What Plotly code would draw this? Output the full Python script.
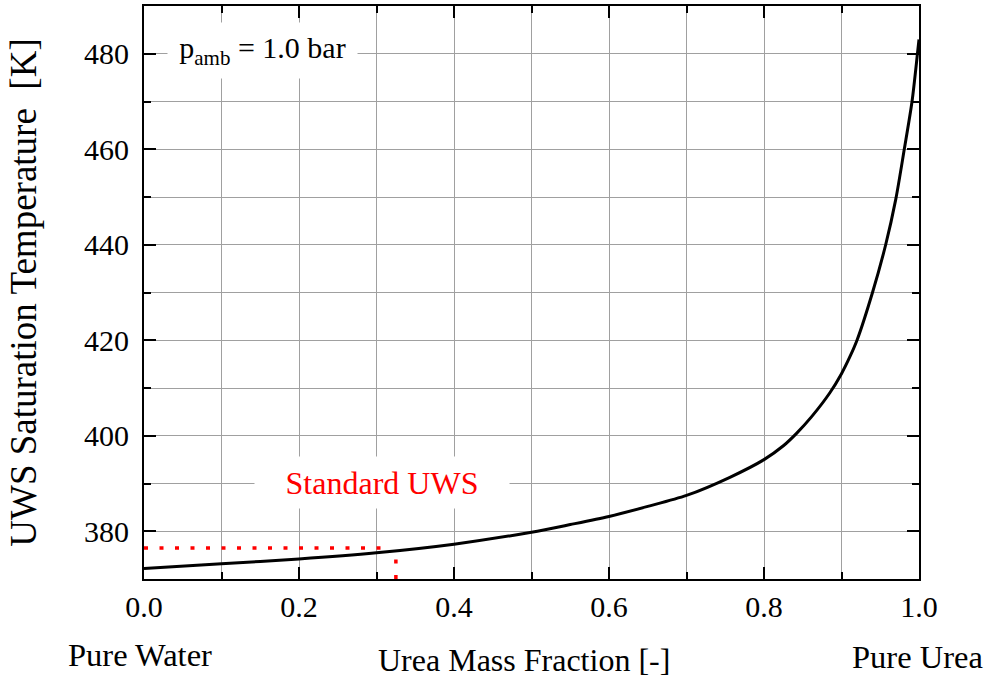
import plotly.graph_objects as go

# Urea mass fraction [-] and UWS saturation temperature [K]
urea_fraction = [0.0, 0.1, 0.2, 0.3, 0.4, 0.5, 0.55, 0.6, 0.65, 0.7, 0.756, 0.8, 0.825, 0.842,
                 0.8615, 0.885, 0.9, 0.911, 0.920, 0.940, 0.957, 0.970, 0.981, 0.991, 0.998, 1.0]
sat_temperature = [372.2, 373.2, 374.2, 375.5, 377.3, 379.8, 381.4, 383.1, 385.2, 387.5, 391.3, 395.0,
                   397.9, 400.5, 404.0, 409.0, 413.0, 416.6, 420.0, 430.0, 440.0, 449.5, 460.0,
                   470.0, 480.0, 483.0]

# Standard UWS marker lines (32.5 % urea)
std_h_x = [0.0, 0.31]
std_h_y = [376.5, 376.5]
std_v_x = [0.325, 0.325]
std_v_y = [370.0, 374.8]

x_ticks = [0.0, 0.2, 0.4, 0.6, 0.8, 1.0]
x_ticklabels = ["0.0", "0.2", "0.4", "0.6", "0.8", "1.0"]
y_ticks = [380, 400, 420, 440, 460, 480]
y_ticklabels = ["380", "400", "420", "440", "460", "480"]

FONT = "Times New Roman"
GRID = "#a0a0a0"

fig = go.Figure()
fig.add_trace(go.Scatter(x=std_h_x, y=std_h_y, mode="lines",
                         line=dict(color="#ff0000", width=3.5, dash="4px,11.5px"),
                         hoverinfo="skip", showlegend=False))
fig.add_trace(go.Scatter(x=std_v_x, y=std_v_y, mode="lines",
                         line=dict(color="#ff0000", width=3.5, dash="4px,11.5px"),
                         hoverinfo="skip", showlegend=False))
fig.add_trace(go.Scatter(x=urea_fraction, y=sat_temperature, mode="lines",
                         line=dict(color="black", width=3, shape="spline", smoothing=0.8),
                         showlegend=False))

axis_common = dict(showline=True, linecolor="black", linewidth=2, mirror="ticks",
                   ticks="inside", ticklen=12, tickwidth=2, tickcolor="black",
                   showgrid=True, gridcolor=GRID, gridwidth=1, zeroline=False)

fig.update_layout(
    template="none",
    width=986, height=679,
    margin=dict(l=144, r=67, t=6, b=100),
    paper_bgcolor="white", plot_bgcolor="white",
    font=dict(family=FONT, color="black", size=30),
    xaxis=dict(range=[0, 1], tickvals=x_ticks, ticktext=x_ticklabels,
               tickfont=dict(family=FONT, size=30, color="black"),
               minor=dict(dtick=0.1, ticks="inside", ticklen=7, tickwidth=2, tickcolor="black",
                          showgrid=True, gridcolor=GRID, gridwidth=1),
               **axis_common),
    yaxis=dict(range=[370, 490], tickvals=y_ticks, ticktext=y_ticklabels,
               tickfont=dict(family=FONT, size=30, color="black"),
               ticklabelstandoff=7,
               minor=dict(dtick=10, tick0=370, ticks="inside", ticklen=7, tickwidth=2, tickcolor="black",
                          showgrid=True, gridcolor=GRID, gridwidth=1),
               title=dict(text="UWS Saturation Temperature  [K]",
                          font=dict(family=FONT, size=37, color="black"), standoff=36),
               **axis_common),
)

def px_x(px):
    return (px - 144) / 775.0

def px_y(py):
    return (579 - py) / 573.0

anns = [
    dict(text="p<sub>amb</sub> = 1.0 bar", x=px_x(262), y=px_y(50), size=30, color="black",
         bg="white", w=189, h=55),
    dict(text="Standard UWS", x=px_x(382), y=px_y(482), size=32, color="#ff0000",
         bg="white", w=254, h=51),
    dict(text="Pure Water", x=px_x(140), y=px_y(655), size=32.5, color="black", bg=None, w=None, h=None),
    dict(text="Urea Mass Fraction [-]", x=px_x(524), y=px_y(660), size=32, color="black",
         bg=None, w=None, h=None),
    dict(text="Pure Urea", x=px_x(917), y=px_y(657), size=32.5, color="black", bg=None, w=None, h=None),
]
for a in anns:
    kw = dict(text=a["text"], xref="paper", yref="paper", x=a["x"], y=a["y"],
              xanchor="center", yanchor="middle", showarrow=False,
              font=dict(family=FONT, size=a["size"], color=a["color"]), borderpad=0)
    if a["bg"]:
        kw.update(bgcolor=a["bg"], width=a["w"], height=a["h"])
    fig.add_annotation(**kw)

fig.write_html("out.html")
